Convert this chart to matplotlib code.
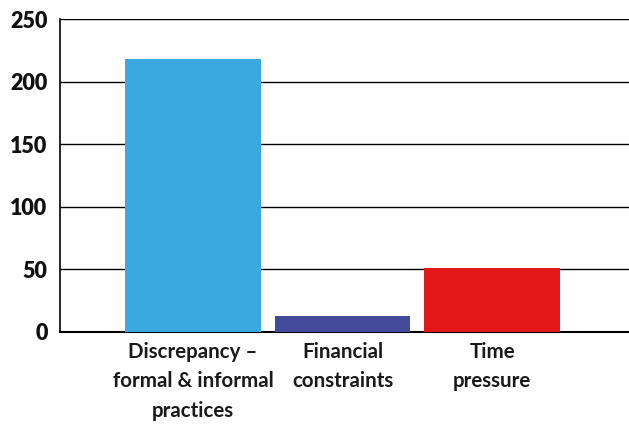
import matplotlib
matplotlib.use("Agg")
import matplotlib.pyplot as plt

categories = ["Discrepancy –\nformal & informal\npractices", "Financial\nconstraints", "Time\npressure"]
values = [218, 13, 51]
colors = ["#39a9e0", "#424a99", "#e31717"]
yticks = [0, 50, 100, 150, 200, 250]

plt.rcParams['font.family'] = ['Lato', 'DejaVu Sans']

fig = plt.figure(figsize=(6.29, 4.24), dpi=100)
ax = fig.add_axes([60/629, 1-332/424, 1-60/629, 313/424])

x = list(range(len(categories)))
ax.bar(x, values, width=0.906, color=colors, zorder=3)
ax.set_xlim(-0.89, 2.915)
ax.set_ylim(0, 250)
ax.set_yticks(yticks)
ax.set_yticklabels([str(t) for t in yticks], fontsize=15.5, fontweight='heavy', color='#111111')
ax.yaxis.grid(True, color='black', linewidth=1.0, zorder=0)
ax.set_xticks(x)
ax.set_xticklabels(categories, fontsize=14.8, fontweight='bold', color='#1a1a1a', linespacing=1.6)
ax.tick_params(axis='both', length=0)
ax.tick_params(axis='y', pad=9)
ax.tick_params(axis='x', pad=7)
for s in ['top', 'right']:
    ax.spines[s].set_visible(False)
ax.spines['left'].set_linewidth(1.2)
ax.spines['bottom'].set_linewidth(1.5)
ax.set_axisbelow(True)

fig.savefig("out.png", dpi=100)
